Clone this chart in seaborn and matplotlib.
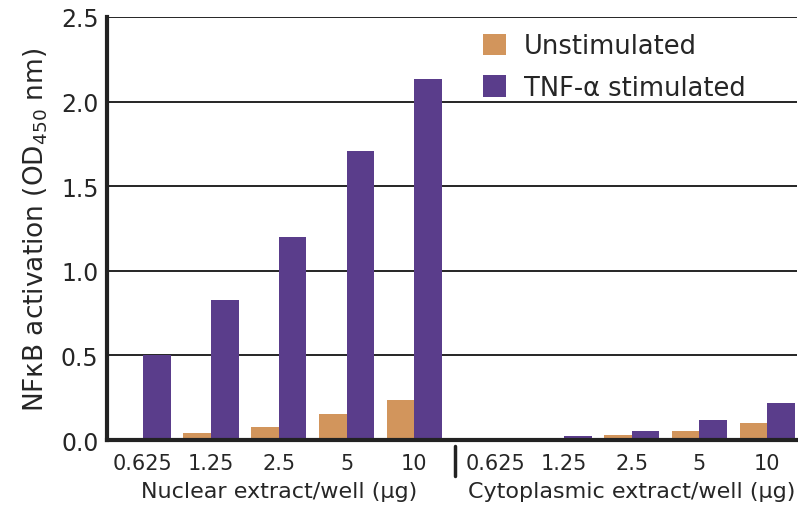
import numpy as np
import pandas as pd
import matplotlib
matplotlib.use("Agg")
import matplotlib.pyplot as plt
import matplotlib.transforms as mtransforms
import seaborn as sns

doses = ['0.625', '1.25', '2.5', '5', '10']
nuclear_unstim = [0.015, 0.045, 0.078, 0.157, 0.24]
nuclear_tnf = [0.50, 0.83, 1.20, 1.71, 2.13]
cyto_unstim = [0.0, 0.005, 0.03, 0.054, 0.10]
cyto_tnf = [0.005, 0.022, 0.056, 0.12, 0.217]
series = ['Unstimulated', 'TNF-\u03b1 stimulated']
groups = ['Nuclear extract/well (\u00b5g)', 'Cytoplasmic extract/well (\u00b5g)']

sns.set_style('white')
plt.rcParams['font.family'] = ['DejaVu Sans']
plt.rcParams['mathtext.default'] = 'regular'

# positions: second block shifted a little further right
pos_nuc = np.arange(len(doses))
pos_cyt = np.arange(len(doses)) + 5.2

df = pd.DataFrame({
    'x': np.concatenate([pos_nuc, pos_nuc, pos_cyt, pos_cyt]),
    'value': nuclear_unstim + nuclear_tnf + cyto_unstim + cyto_tnf,
    'series': [series[0]] * 5 + [series[1]] * 5 + [series[0]] * 5 + [series[1]] * 5,
})

fig = plt.figure(figsize=(7.98, 5.10), dpi=100)
ax = fig.add_axes([0.134, 0.135, 0.865, 0.83])

palette = {series[0]: '#D2955C', series[1]: '#5A3D8B'}
sns.barplot(data=df, x='x', y='value', hue='series', hue_order=series,
            palette=palette, native_scale=True, width=0.82, gap=0,
            saturation=1, linewidth=0, edgecolor='none', ax=ax, zorder=3)

ax.set_ylim(0, 2.5)
ax.set_xlim(-0.53, 9.64)
ax.set_yticks([0, 0.5, 1.0, 1.5, 2.0, 2.5])
ax.set_yticklabels(['0.0', '0.5', '1.0', '1.5', '2.0', '2.5'], fontsize=17)
for yv in [0.5, 1.0, 1.5, 2.0, 2.5]:
    ax.axhline(yv, color='black', lw=1.2, zorder=1)

ax.set_xticks(np.concatenate([pos_nuc, pos_cyt]))
ax.set_xticklabels(doses + doses, fontsize=15)
ax.tick_params(axis='both', length=0, pad=6)
ax.tick_params(axis='x', pad=9)

for s in ['top', 'right']:
    ax.spines[s].set_visible(False)
for s in ['left', 'bottom']:
    ax.spines[s].set_linewidth(3)
    ax.spines[s].set_color('#222222')
    ax.spines[s].set_zorder(4)

ax.set_xlabel('')
ax.set_ylabel('NF\u03baB activation (OD$_{450}$ nm)', fontsize=19, labelpad=8)

trans = mtransforms.blended_transform_factory(ax.transData, ax.transAxes)
sep = (pos_nuc[-1] + pos_cyt[0]) / 2
ax.plot([sep, sep], [-0.015, -0.085], color='#222222', lw=2.5,
        transform=trans, clip_on=False)
ax.text(pos_nuc.mean(), -0.12, groups[0], transform=trans, ha='center',
        va='center', fontsize=16)
ax.text(pos_cyt.mean(), -0.12, groups[1], transform=trans, ha='center',
        va='center', fontsize=16)

ax.legend(loc='upper right', bbox_to_anchor=(0.94, 0.985), borderaxespad=0,
          frameon=False, fontsize=18.5, handlelength=0.9, handleheight=0.9,
          handletextpad=0.7, labelspacing=0.6)

fig.savefig('out.png', dpi=100)
